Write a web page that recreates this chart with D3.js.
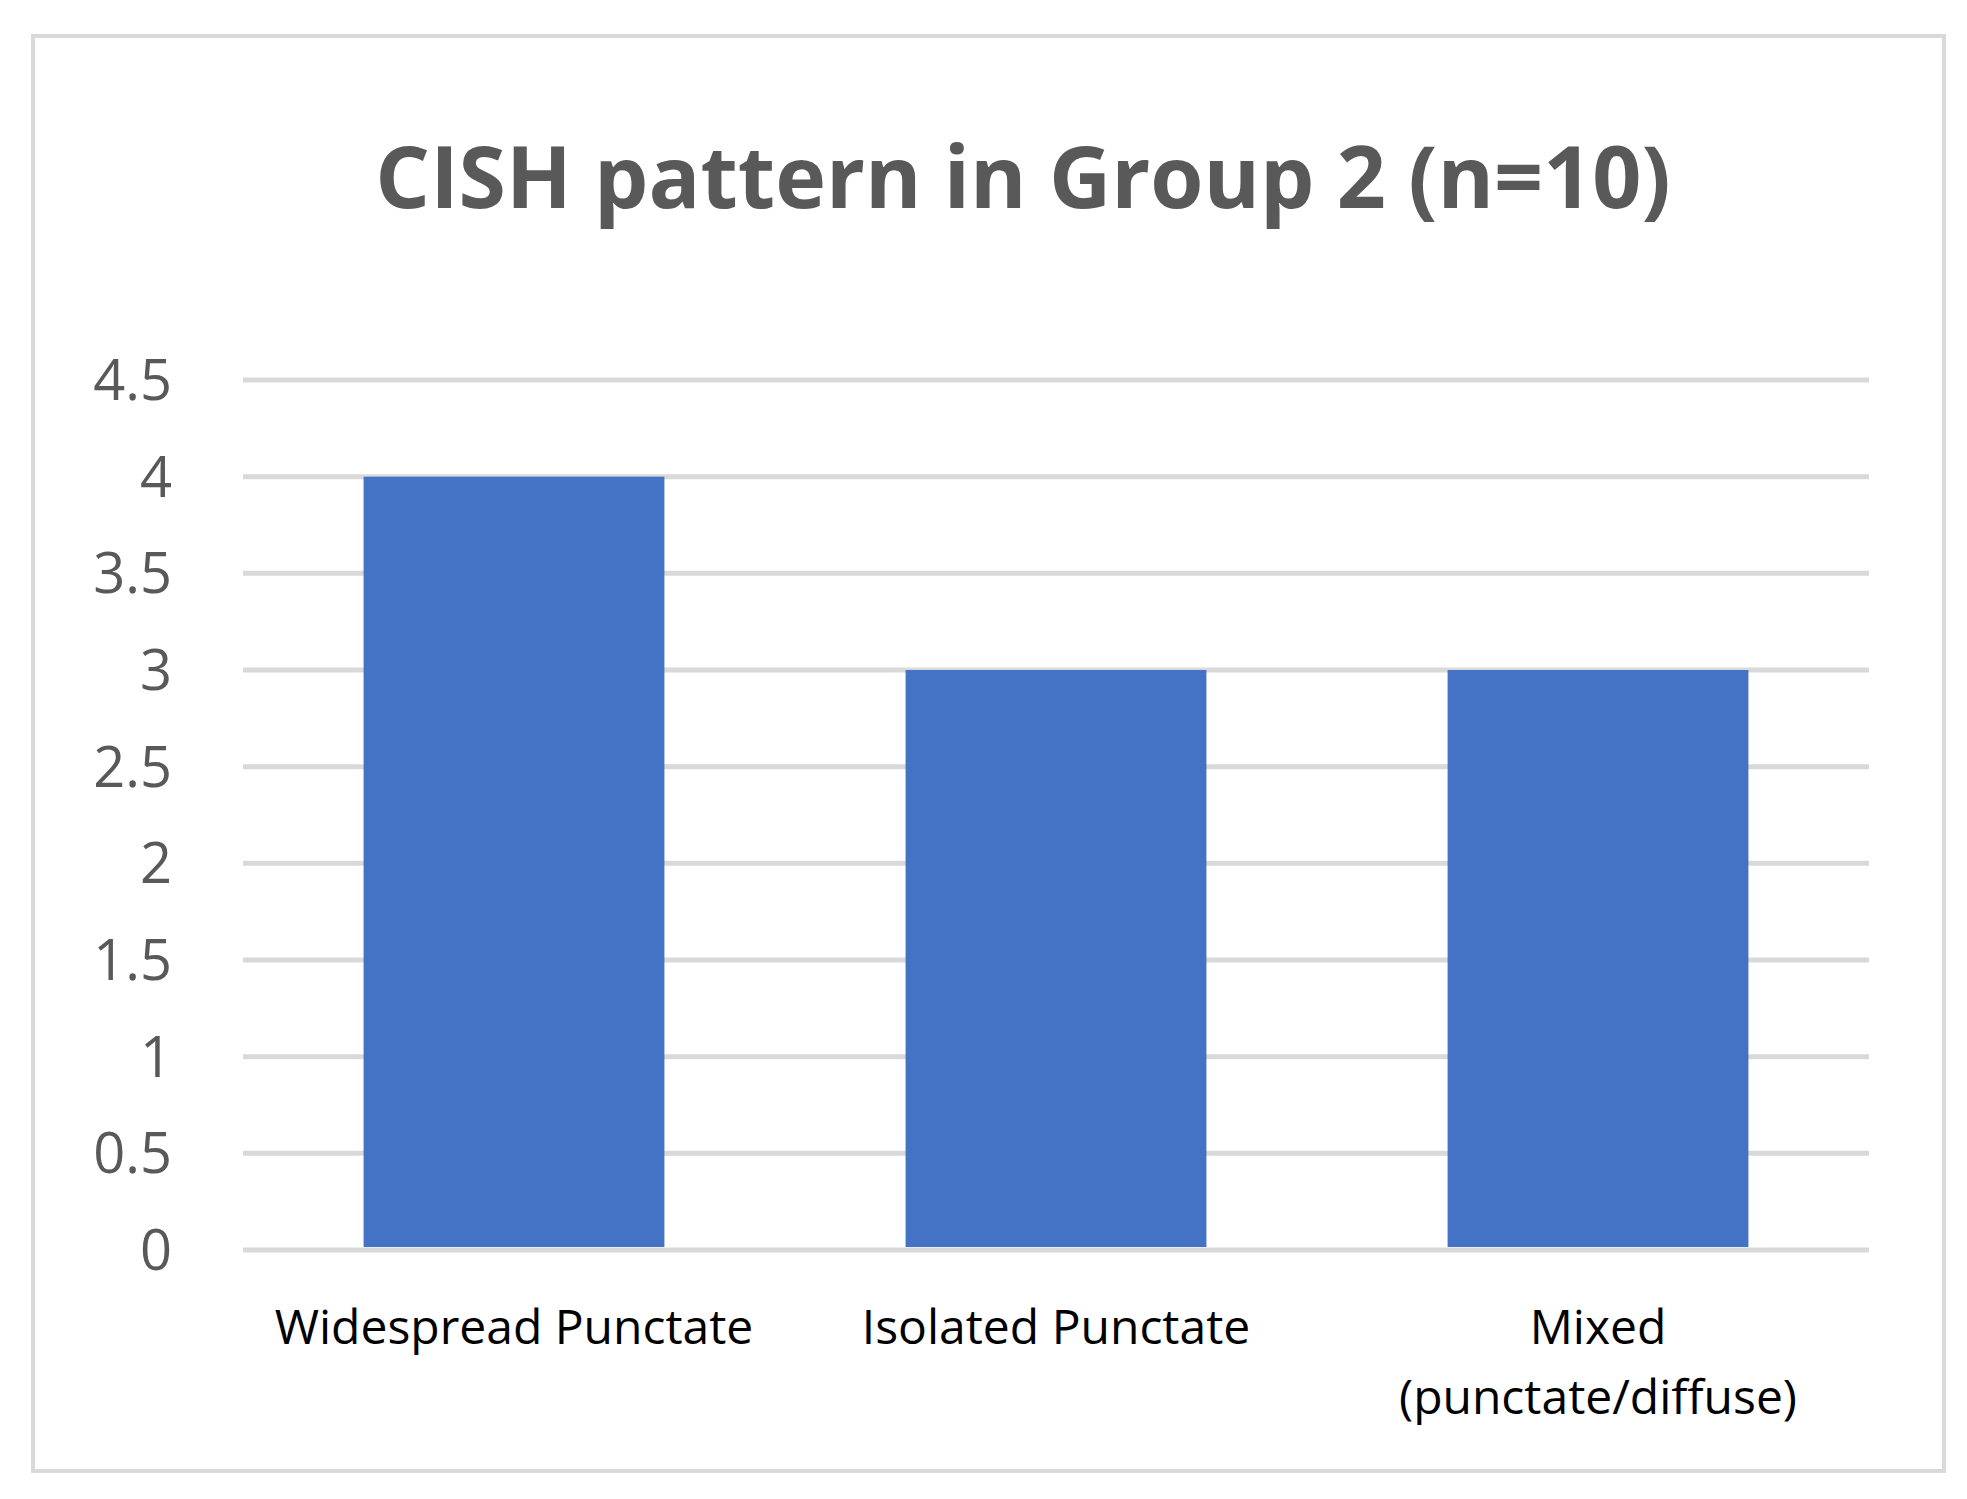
<!DOCTYPE html>
<html><head><meta charset="utf-8">
<script src="https://cdn.jsdelivr.net/npm/d3@7"></script>
<style>body{margin:0;background:white;}</style>
</head><body>
<script>
const categories = ["Widespread Punctate", "Isolated Punctate", "Mixed\n(punctate/diffuse)"];
const values = [4, 3, 3];
const yTicks = [0, 0.5, 1, 1.5, 2, 2.5, 3, 3.5, 4, 4.5];

const W = 1967, H = 1499;
const svg = d3.select("body").append("svg").attr("width", W).attr("height", H);
const font = "'Open Sans', sans-serif";

// frame
svg.append("rect").attr("x", 33).attr("y", 36).attr("width", 1911).attr("height", 1435)
    .attr("fill", "white").attr("stroke", "#d9d9d9").attr("stroke-width", 4);

svg.append("text").attr("x", 1023).attr("y", 208).attr("text-anchor", "middle")
    .attr("font-family", font).attr("font-weight", "bold").attr("font-size", 86)
    .attr("fill", "#595959").text("CISH pattern in Group 2 (n=10)");

const x = d3.scaleBand().domain(categories).range([243, 1869]).paddingInner(0.445).paddingOuter(0.2225);
const y = d3.scaleLinear().domain([0, 4.5]).range([1250, 380]);

// gridlines
svg.append("g").selectAll("line").data(yTicks).join("line")
    .attr("x1", 243).attr("x2", 1869)
    .attr("y1", d => y(d)).attr("y2", d => y(d))
    .attr("stroke", "#d9d9d9").attr("stroke-width", 5);

svg.append("g").selectAll("text").data(yTicks).join("text")
    .attr("x", 172).attr("y", d => y(d)).attr("dy", "0.36em")
    .attr("text-anchor", "end").attr("font-family", font).attr("font-size", 56)
    .attr("fill", "#595959").text(d => d);

svg.append("g").selectAll("rect").data(values).join("rect")
    .attr("x", (d, i) => x(categories[i])).attr("width", x.bandwidth())
    .attr("y", d => y(d)).attr("height", d => y(0) - y(d) - 3)
    .attr("fill", "#4472c4");

const lab = svg.append("g").selectAll("text").data(categories).join("text")
    .attr("text-anchor", "middle").attr("font-family", font).attr("font-size", 48)
    .attr("fill", "#000");
lab.each(function(d) {
    const t = d3.select(this);
    d.split("\n").forEach((s, i) => {
        t.append("tspan").attr("x", x(d) + x.bandwidth() / 2).attr("y", 1344 + i * 70).text(s);
    });
});
</script>
</body></html>
